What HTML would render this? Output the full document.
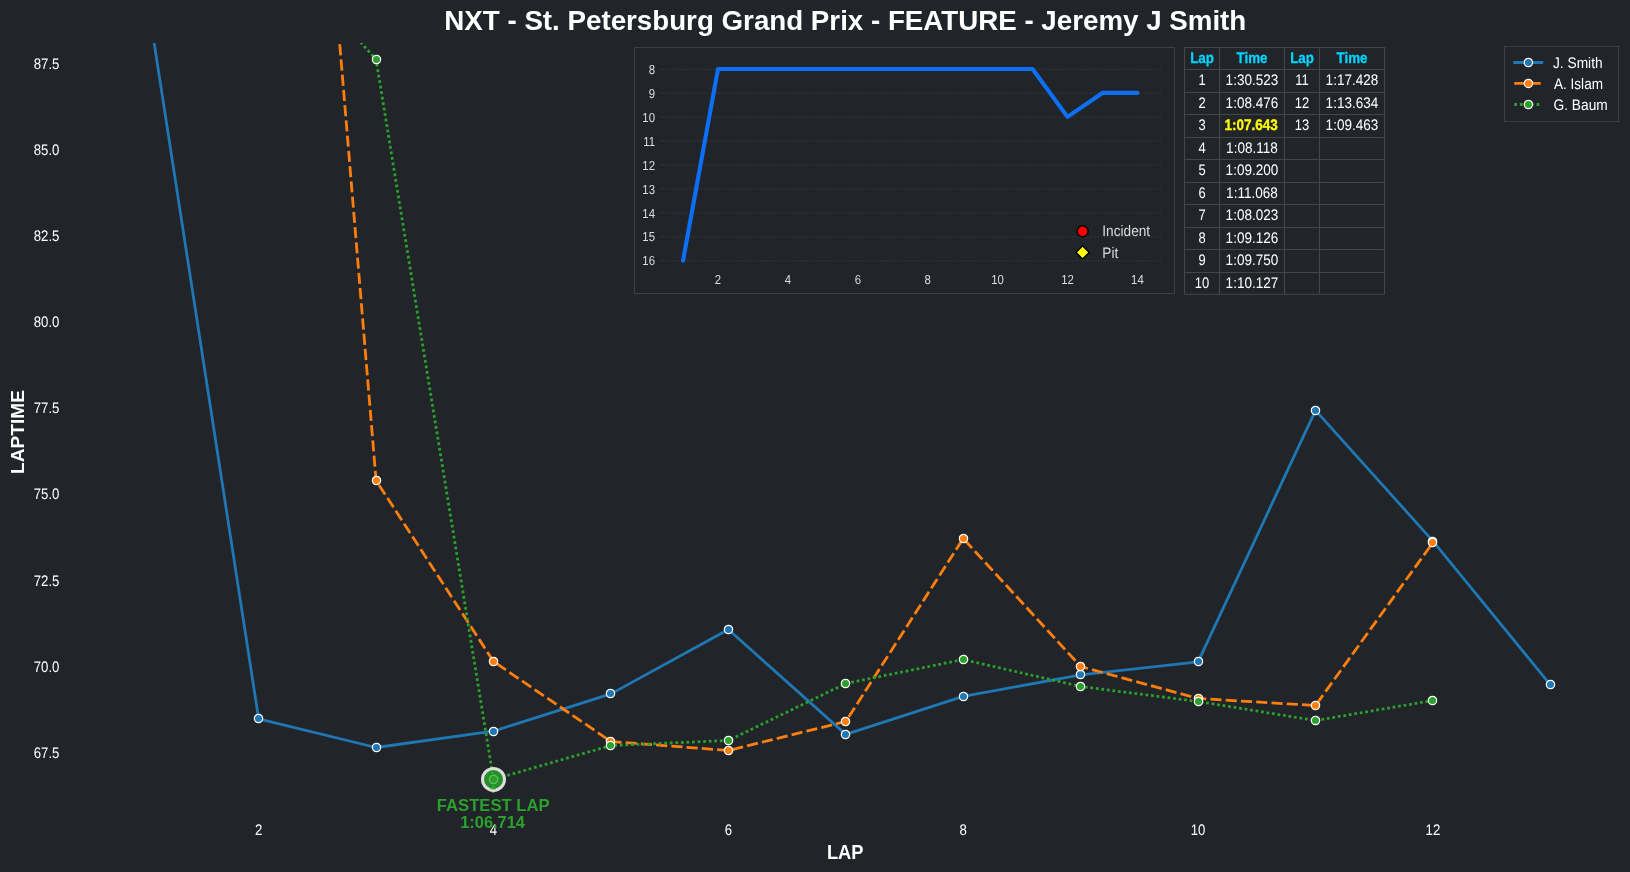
<!DOCTYPE html>
<html><head><meta charset="utf-8"><title>chart</title>
<style>
html,body{margin:0;padding:0;background:#212529;}
body{width:1630px;height:872px;overflow:hidden;font-family:"Liberation Sans",sans-serif;}
svg{display:block;will-change:transform;}
text{font-family:"Liberation Sans",sans-serif;}
text.s{text-rendering:geometricPrecision;}
</style></head><body>
<svg width="1630" height="872" viewBox="0 0 1630 872">
<rect width="1630" height="872" fill="#212529"/>
<defs><clipPath id="ax"><rect x="80" y="43.0" width="1550" height="770"/></clipPath></defs>

<text transform="translate(845.30,30.00) scale(1.0,1)" font-size="27.72" fill="#fff" text-anchor="middle" font-weight="bold">NXT - St. Petersburg Grand Prix - FEATURE - Jeremy J Smith</text>
<text transform="translate(46.60,68.83) scale(0.865,1)" font-size="15.28" fill="#fff" text-anchor="middle" class="s">87.5</text>
<text transform="translate(46.60,154.95) scale(0.865,1)" font-size="15.28" fill="#fff" text-anchor="middle" class="s">85.0</text>
<text transform="translate(46.60,241.08) scale(0.865,1)" font-size="15.28" fill="#fff" text-anchor="middle" class="s">82.5</text>
<text transform="translate(46.60,327.20) scale(0.865,1)" font-size="15.28" fill="#fff" text-anchor="middle" class="s">80.0</text>
<text transform="translate(46.60,413.33) scale(0.865,1)" font-size="15.28" fill="#fff" text-anchor="middle" class="s">77.5</text>
<text transform="translate(46.60,499.45) scale(0.865,1)" font-size="15.28" fill="#fff" text-anchor="middle" class="s">75.0</text>
<text transform="translate(46.60,585.58) scale(0.865,1)" font-size="15.28" fill="#fff" text-anchor="middle" class="s">72.5</text>
<text transform="translate(46.60,671.70) scale(0.865,1)" font-size="15.28" fill="#fff" text-anchor="middle" class="s">70.0</text>
<text transform="translate(46.60,757.83) scale(0.865,1)" font-size="15.28" fill="#fff" text-anchor="middle" class="s">67.5</text>
<text transform="translate(258.65,835.00) scale(0.865,1)" font-size="15.28" fill="#fff" text-anchor="middle" class="s">2</text>
<text transform="translate(493.51,835.00) scale(0.865,1)" font-size="15.28" fill="#fff" text-anchor="middle" class="s">4</text>
<text transform="translate(728.37,835.00) scale(0.865,1)" font-size="15.28" fill="#fff" text-anchor="middle" class="s">6</text>
<text transform="translate(963.23,835.00) scale(0.865,1)" font-size="15.28" fill="#fff" text-anchor="middle" class="s">8</text>
<text transform="translate(1198.09,835.00) scale(0.865,1)" font-size="15.28" fill="#fff" text-anchor="middle" class="s">10</text>
<text transform="translate(1432.95,835.00) scale(0.865,1)" font-size="15.28" fill="#fff" text-anchor="middle" class="s">12</text>
<text transform="translate(845.20,859.00) scale(0.945,1)" font-size="19.4" fill="#fff" text-anchor="middle" font-weight="bold">LAP</text>
<text transform="translate(24,432) rotate(-90)" font-size="19.1" font-weight="bold" fill="#fff" text-anchor="middle">LAPTIME</text>
<g clip-path="url(#ax)">
<polyline points="141.22,-40.71 258.65,718.81 376.08,747.50 493.51,731.14 610.94,693.86 728.37,629.51 845.80,734.41 963.23,696.41 1080.66,674.92 1198.09,661.93 1315.52,410.41 1432.95,541.11 1550.38,684.80" fill="none" stroke="#1f77b4" stroke-width="2.78" stroke-linejoin="round"/>
<circle cx="141.50" cy="-40.50" r="4.15" fill="#1f77b4" stroke="#fff" stroke-width="1.25"/><circle cx="258.50" cy="718.50" r="4.15" fill="#1f77b4" stroke="#fff" stroke-width="1.25"/><circle cx="376.50" cy="747.50" r="4.15" fill="#1f77b4" stroke="#fff" stroke-width="1.25"/><circle cx="493.50" cy="731.50" r="4.15" fill="#1f77b4" stroke="#fff" stroke-width="1.25"/><circle cx="610.50" cy="693.50" r="4.15" fill="#1f77b4" stroke="#fff" stroke-width="1.25"/><circle cx="728.50" cy="629.50" r="4.15" fill="#1f77b4" stroke="#fff" stroke-width="1.25"/><circle cx="845.50" cy="734.50" r="4.15" fill="#1f77b4" stroke="#fff" stroke-width="1.25"/><circle cx="963.50" cy="696.50" r="4.15" fill="#1f77b4" stroke="#fff" stroke-width="1.25"/><circle cx="1080.50" cy="674.50" r="4.15" fill="#1f77b4" stroke="#fff" stroke-width="1.25"/><circle cx="1198.50" cy="661.50" r="4.15" fill="#1f77b4" stroke="#fff" stroke-width="1.25"/><circle cx="1315.50" cy="410.50" r="4.15" fill="#1f77b4" stroke="#fff" stroke-width="1.25"/><circle cx="1432.50" cy="541.50" r="4.15" fill="#1f77b4" stroke="#fff" stroke-width="1.25"/><circle cx="1550.50" cy="684.50" r="4.15" fill="#1f77b4" stroke="#fff" stroke-width="1.25"/>
<polyline points="335.97,-1.00 376.08,480.50 493.51,661.50 610.94,741.50 728.37,750.50 845.80,721.50 963.23,538.50 1080.66,666.50 1198.09,698.50 1315.52,705.50 1432.95,542.50" fill="none" stroke="#ff7f0e" stroke-width="2.78" stroke-dasharray="11.12,4.17" stroke-dashoffset="0.5" stroke-linejoin="round"/>
<circle cx="376.50" cy="480.50" r="4.15" fill="#ff7f0e" stroke="#fff" stroke-width="1.25"/><circle cx="493.50" cy="661.50" r="4.15" fill="#ff7f0e" stroke="#fff" stroke-width="1.25"/><circle cx="610.50" cy="741.50" r="4.15" fill="#ff7f0e" stroke="#fff" stroke-width="1.25"/><circle cx="728.50" cy="750.50" r="4.15" fill="#ff7f0e" stroke="#fff" stroke-width="1.25"/><circle cx="845.50" cy="721.50" r="4.15" fill="#ff7f0e" stroke="#fff" stroke-width="1.25"/><circle cx="963.50" cy="538.50" r="4.15" fill="#ff7f0e" stroke="#fff" stroke-width="1.25"/><circle cx="1080.50" cy="666.50" r="4.15" fill="#ff7f0e" stroke="#fff" stroke-width="1.25"/><circle cx="1198.50" cy="698.50" r="4.15" fill="#ff7f0e" stroke="#fff" stroke-width="1.25"/><circle cx="1315.50" cy="705.50" r="4.15" fill="#ff7f0e" stroke="#fff" stroke-width="1.25"/><circle cx="1432.50" cy="542.50" r="4.15" fill="#ff7f0e" stroke="#fff" stroke-width="1.25"/>
<polyline points="321.63,-1.00 376.08,59.50 493.51,779.40 610.94,745.50 728.37,740.50 845.80,683.50 963.23,659.50 1080.66,686.50 1198.09,701.50 1315.52,720.50 1432.95,700.50" fill="none" stroke="#2ca02c" stroke-width="2.78" stroke-dasharray="2.78,2.78" stroke-dashoffset="-2.3" stroke-linejoin="round"/>
<circle cx="376.50" cy="59.50" r="4.15" fill="#2ca02c" stroke="#fff" stroke-width="1.25"/><circle cx="493.50" cy="779.50" r="4.15" fill="#2ca02c" stroke="#fff" stroke-width="1.25"/><circle cx="610.50" cy="745.50" r="4.15" fill="#2ca02c" stroke="#fff" stroke-width="1.25"/><circle cx="728.50" cy="740.50" r="4.15" fill="#2ca02c" stroke="#fff" stroke-width="1.25"/><circle cx="845.50" cy="683.50" r="4.15" fill="#2ca02c" stroke="#fff" stroke-width="1.25"/><circle cx="963.50" cy="659.50" r="4.15" fill="#2ca02c" stroke="#fff" stroke-width="1.25"/><circle cx="1080.50" cy="686.50" r="4.15" fill="#2ca02c" stroke="#fff" stroke-width="1.25"/><circle cx="1198.50" cy="701.50" r="4.15" fill="#2ca02c" stroke="#fff" stroke-width="1.25"/><circle cx="1315.50" cy="720.50" r="4.15" fill="#2ca02c" stroke="#fff" stroke-width="1.25"/><circle cx="1432.50" cy="700.50" r="4.15" fill="#2ca02c" stroke="#fff" stroke-width="1.25"/>
</g>
<path d="M493.2 783.4 L490.3 790.0 L496.1 790.0 Z" fill="#2ca02c"/>
<rect x="492.1" y="791.4" width="2.2" height="1.6" fill="#2ca02c"/>
<circle cx="493.50" cy="779.4" r="11" fill="#2ca02c" fill-opacity="0.85" stroke="#e4e4e4" stroke-opacity="0.96" stroke-width="3"/>
<circle cx="493.50" cy="779.5" r="4.15" fill="none" stroke="#6ec36e" stroke-width="0.8"/>
<path d="M493.2 783.6999999999999 L490.3 789.1999999999999 L496.1 789.1999999999999 Z" fill="#2ca02c"/>
<text transform="translate(493.20,810.80) scale(1.0,1)" font-size="16.67" fill="#2ca02c" text-anchor="middle" font-weight="bold">FASTEST LAP</text>
<text transform="translate(492.60,827.60) scale(0.985,1)" font-size="16.67" fill="#2ca02c" text-anchor="middle" font-weight="bold">1:06.714</text>
<rect x="634.5" y="47.5" width="540" height="246" fill="none" stroke="#3a3f44" stroke-width="1"/>
<line x1="660" x2="1161" y1="69.3" y2="69.3" stroke="#3c4045" stroke-width="1" stroke-dasharray="1.11,1.83"/>
<text transform="translate(655.00,73.90) scale(0.875,1)" font-size="13.0" fill="#dcdcdc" text-anchor="end" class="s">8</text>
<line x1="660" x2="1161" y1="93.2" y2="93.2" stroke="#3c4045" stroke-width="1" stroke-dasharray="1.11,1.83"/>
<text transform="translate(655.00,97.84) scale(0.875,1)" font-size="13.0" fill="#dcdcdc" text-anchor="end" class="s">9</text>
<line x1="660" x2="1161" y1="117.2" y2="117.2" stroke="#3c4045" stroke-width="1" stroke-dasharray="1.11,1.83"/>
<text transform="translate(655.00,121.78) scale(0.875,1)" font-size="13.0" fill="#dcdcdc" text-anchor="end" class="s">10</text>
<line x1="660" x2="1161" y1="141.1" y2="141.1" stroke="#3c4045" stroke-width="1" stroke-dasharray="1.11,1.83"/>
<text transform="translate(655.00,145.72) scale(0.875,1)" font-size="13.0" fill="#dcdcdc" text-anchor="end" class="s">11</text>
<line x1="660" x2="1161" y1="165.1" y2="165.1" stroke="#3c4045" stroke-width="1" stroke-dasharray="1.11,1.83"/>
<text transform="translate(655.00,169.66) scale(0.875,1)" font-size="13.0" fill="#dcdcdc" text-anchor="end" class="s">12</text>
<line x1="660" x2="1161" y1="189.0" y2="189.0" stroke="#3c4045" stroke-width="1" stroke-dasharray="1.11,1.83"/>
<text transform="translate(655.00,193.60) scale(0.875,1)" font-size="13.0" fill="#dcdcdc" text-anchor="end" class="s">13</text>
<line x1="660" x2="1161" y1="212.9" y2="212.9" stroke="#3c4045" stroke-width="1" stroke-dasharray="1.11,1.83"/>
<text transform="translate(655.00,217.54) scale(0.875,1)" font-size="13.0" fill="#dcdcdc" text-anchor="end" class="s">14</text>
<line x1="660" x2="1161" y1="236.9" y2="236.9" stroke="#3c4045" stroke-width="1" stroke-dasharray="1.11,1.83"/>
<text transform="translate(655.00,241.48) scale(0.875,1)" font-size="13.0" fill="#dcdcdc" text-anchor="end" class="s">15</text>
<line x1="660" x2="1161" y1="260.8" y2="260.8" stroke="#3c4045" stroke-width="1" stroke-dasharray="1.11,1.83"/>
<text transform="translate(655.00,265.42) scale(0.875,1)" font-size="13.0" fill="#dcdcdc" text-anchor="end" class="s">16</text>
<text transform="translate(718.00,284.40) scale(0.875,1)" font-size="13.0" fill="#dcdcdc" text-anchor="middle" class="s">2</text>
<text transform="translate(787.90,284.40) scale(0.875,1)" font-size="13.0" fill="#dcdcdc" text-anchor="middle" class="s">4</text>
<text transform="translate(857.80,284.40) scale(0.875,1)" font-size="13.0" fill="#dcdcdc" text-anchor="middle" class="s">6</text>
<text transform="translate(927.70,284.40) scale(0.875,1)" font-size="13.0" fill="#dcdcdc" text-anchor="middle" class="s">8</text>
<text transform="translate(997.60,284.40) scale(0.875,1)" font-size="13.0" fill="#dcdcdc" text-anchor="middle" class="s">10</text>
<text transform="translate(1067.50,284.40) scale(0.875,1)" font-size="13.0" fill="#dcdcdc" text-anchor="middle" class="s">12</text>
<text transform="translate(1137.40,284.40) scale(0.875,1)" font-size="13.0" fill="#dcdcdc" text-anchor="middle" class="s">14</text>
<polyline points="683.05,260.52 718.00,69.00 752.95,69.00 787.90,69.00 822.85,69.00 857.80,69.00 892.75,69.00 927.70,69.00 962.65,69.00 997.60,69.00 1032.55,69.00 1067.50,116.88 1102.45,92.94 1137.40,92.94" fill="none" stroke="#0c6ff5" stroke-width="4.17" stroke-linejoin="round" stroke-linecap="round"/>
<circle cx="1082.6" cy="231.3" r="5.5" fill="#ff0000" stroke="#000" stroke-width="1.4"/>
<text transform="translate(1102.30,236.30) scale(0.894,1)" font-size="15.28" fill="#dcdcdc" text-anchor="start" class="s">Incident</text>
<path d="M1082.6 245.8 L1089.2 252.4 L1082.6 259 L1076 252.4 Z" fill="#ffff00" stroke="#000" stroke-width="1.4"/>
<text transform="translate(1102.30,257.50) scale(0.894,1)" font-size="15.28" fill="#dcdcdc" text-anchor="start" class="s">Pit</text>
<line x1="1184.0" x2="1385.0" y1="47.50" y2="47.50" stroke="#464646" stroke-width="1.1"/>
<line x1="1184.0" x2="1385.0" y1="69.50" y2="69.50" stroke="#464646" stroke-width="1.1"/>
<line x1="1184.0" x2="1385.0" y1="92.50" y2="92.50" stroke="#464646" stroke-width="1.1"/>
<line x1="1184.0" x2="1385.0" y1="114.50" y2="114.50" stroke="#464646" stroke-width="1.1"/>
<line x1="1184.0" x2="1385.0" y1="137.50" y2="137.50" stroke="#464646" stroke-width="1.1"/>
<line x1="1184.0" x2="1385.0" y1="159.50" y2="159.50" stroke="#464646" stroke-width="1.1"/>
<line x1="1184.0" x2="1385.0" y1="182.50" y2="182.50" stroke="#464646" stroke-width="1.1"/>
<line x1="1184.0" x2="1385.0" y1="204.50" y2="204.50" stroke="#464646" stroke-width="1.1"/>
<line x1="1184.0" x2="1385.0" y1="227.50" y2="227.50" stroke="#464646" stroke-width="1.1"/>
<line x1="1184.0" x2="1385.0" y1="249.50" y2="249.50" stroke="#464646" stroke-width="1.1"/>
<line x1="1184.0" x2="1385.0" y1="272.50" y2="272.50" stroke="#464646" stroke-width="1.1"/>
<line x1="1184.0" x2="1385.0" y1="294.20" y2="294.20" stroke="#464646" stroke-width="1.1"/>
<line x1="1184.5" x2="1184.5" y1="47.5" y2="294.2" stroke="#464646" stroke-width="1.1"/>
<line x1="1219.5" x2="1219.5" y1="47.5" y2="294.2" stroke="#464646" stroke-width="1.1"/>
<line x1="1284.5" x2="1284.5" y1="47.5" y2="294.2" stroke="#464646" stroke-width="1.1"/>
<line x1="1319.5" x2="1319.5" y1="47.5" y2="294.2" stroke="#464646" stroke-width="1.1"/>
<line x1="1384.5" x2="1384.5" y1="47.5" y2="294.2" stroke="#464646" stroke-width="1.1"/>
<text transform="translate(1202.00,62.60) scale(0.875,1)" font-size="15.28" fill="#00d4ff" text-anchor="middle" font-weight="bold" class="s" stroke="#00d4ff" stroke-width="0.3">Lap</text>
<text transform="translate(1252.00,62.60) scale(0.875,1)" font-size="15.28" fill="#00d4ff" text-anchor="middle" font-weight="bold" class="s" stroke="#00d4ff" stroke-width="0.3">Time</text>
<text transform="translate(1302.00,62.60) scale(0.875,1)" font-size="15.28" fill="#00d4ff" text-anchor="middle" font-weight="bold" class="s" stroke="#00d4ff" stroke-width="0.3">Lap</text>
<text transform="translate(1352.00,62.60) scale(0.875,1)" font-size="15.28" fill="#00d4ff" text-anchor="middle" font-weight="bold" class="s" stroke="#00d4ff" stroke-width="0.3">Time</text>
<text transform="translate(1202.00,85.10) scale(0.85,1)" font-size="15.28" fill="#fff" text-anchor="middle" class="s">1</text>
<text transform="translate(1252.00,85.10) scale(0.888,1)" font-size="15.28" fill="#fff" text-anchor="middle" class="s">1:30.523</text>
<text transform="translate(1202.00,107.60) scale(0.85,1)" font-size="15.28" fill="#fff" text-anchor="middle" class="s">2</text>
<text transform="translate(1252.00,107.60) scale(0.888,1)" font-size="15.28" fill="#fff" text-anchor="middle" class="s">1:08.476</text>
<text transform="translate(1202.00,130.10) scale(0.85,1)" font-size="15.28" fill="#fff" text-anchor="middle" class="s">3</text>
<text transform="translate(1251.20,130.10) scale(0.885,1)" font-size="15.28" fill="#ffff00" text-anchor="middle" font-weight="bold" class="s" stroke="#ffff00" stroke-width="0.3">1:07.643</text>
<text transform="translate(1202.00,152.60) scale(0.85,1)" font-size="15.28" fill="#fff" text-anchor="middle" class="s">4</text>
<text transform="translate(1252.00,152.60) scale(0.888,1)" font-size="15.28" fill="#fff" text-anchor="middle" class="s">1:08.118</text>
<text transform="translate(1202.00,175.10) scale(0.85,1)" font-size="15.28" fill="#fff" text-anchor="middle" class="s">5</text>
<text transform="translate(1252.00,175.10) scale(0.888,1)" font-size="15.28" fill="#fff" text-anchor="middle" class="s">1:09.200</text>
<text transform="translate(1202.00,197.60) scale(0.85,1)" font-size="15.28" fill="#fff" text-anchor="middle" class="s">6</text>
<text transform="translate(1252.00,197.60) scale(0.888,1)" font-size="15.28" fill="#fff" text-anchor="middle" class="s">1:11.068</text>
<text transform="translate(1202.00,220.10) scale(0.85,1)" font-size="15.28" fill="#fff" text-anchor="middle" class="s">7</text>
<text transform="translate(1252.00,220.10) scale(0.888,1)" font-size="15.28" fill="#fff" text-anchor="middle" class="s">1:08.023</text>
<text transform="translate(1202.00,242.60) scale(0.85,1)" font-size="15.28" fill="#fff" text-anchor="middle" class="s">8</text>
<text transform="translate(1252.00,242.60) scale(0.888,1)" font-size="15.28" fill="#fff" text-anchor="middle" class="s">1:09.126</text>
<text transform="translate(1202.00,265.10) scale(0.85,1)" font-size="15.28" fill="#fff" text-anchor="middle" class="s">9</text>
<text transform="translate(1252.00,265.10) scale(0.888,1)" font-size="15.28" fill="#fff" text-anchor="middle" class="s">1:09.750</text>
<text transform="translate(1202.00,287.60) scale(0.85,1)" font-size="15.28" fill="#fff" text-anchor="middle" class="s">10</text>
<text transform="translate(1252.00,287.60) scale(0.888,1)" font-size="15.28" fill="#fff" text-anchor="middle" class="s">1:10.127</text>
<text transform="translate(1302.00,85.10) scale(0.85,1)" font-size="15.28" fill="#fff" text-anchor="middle" class="s">11</text>
<text transform="translate(1352.00,85.10) scale(0.888,1)" font-size="15.28" fill="#fff" text-anchor="middle" class="s">1:17.428</text>
<text transform="translate(1302.00,107.60) scale(0.85,1)" font-size="15.28" fill="#fff" text-anchor="middle" class="s">12</text>
<text transform="translate(1352.00,107.60) scale(0.888,1)" font-size="15.28" fill="#fff" text-anchor="middle" class="s">1:13.634</text>
<text transform="translate(1302.00,130.10) scale(0.85,1)" font-size="15.28" fill="#fff" text-anchor="middle" class="s">13</text>
<text transform="translate(1352.00,130.10) scale(0.888,1)" font-size="15.28" fill="#fff" text-anchor="middle" class="s">1:09.463</text>
<rect x="1504.5" y="46.5" width="114" height="75" fill="none" stroke="#3a3f44" stroke-width="1"/>
<line x1="1514.3" x2="1542.1" y1="62.5" y2="62.5" stroke="#1f77b4" stroke-width="2.78" stroke-linecap="round"/>
<circle cx="1528.4" cy="62.5" r="4.15" fill="#1f77b4" stroke="#fff" stroke-width="1.25"/>
<text transform="translate(1553.00,67.90) scale(0.9,1)" font-size="15.28" fill="#fff" text-anchor="start" class="s">J. Smith</text>
<line x1="1514.3" x2="1542.1" y1="83.45" y2="83.45" stroke="#ff7f0e" stroke-width="2.78" stroke-dasharray="11.12,4.17"/>
<circle cx="1528.4" cy="83.45" r="4.15" fill="#ff7f0e" stroke="#fff" stroke-width="1.25"/>
<text transform="translate(1554.00,88.85) scale(0.888,1)" font-size="15.28" fill="#fff" text-anchor="start" class="s">A. Islam</text>
<line x1="1514.3" x2="1542.1" y1="104.5" y2="104.5" stroke="#2ca02c" stroke-width="2.78" stroke-dasharray="2.78,2.78"/>
<circle cx="1528.4" cy="104.5" r="4.15" fill="#2ca02c" stroke="#fff" stroke-width="1.25"/>
<text transform="translate(1553.50,109.90) scale(0.9,1)" font-size="15.28" fill="#fff" text-anchor="start" class="s">G. Baum</text>
</svg></body></html>
